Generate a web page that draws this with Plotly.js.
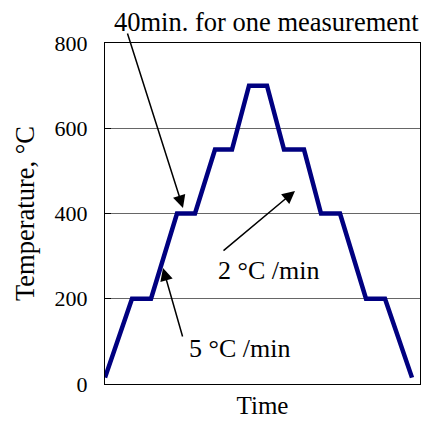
<!DOCTYPE html>
<html><head><meta charset="utf-8">
<script src="https://cdn.plot.ly/plotly-3.0.1.min.js"></script>
<style>html,body{margin:0;padding:0;background:#fff}#chart{width:422px;height:421px}</style>
</head><body><div id="chart"></div>
<script>
// time in arbitrary units (schematic), temperature in °C
const time = [0, 27, 46, 72, 90, 110, 127, 144, 162, 179, 199, 216, 235, 261, 280, 307];
const temperature = [15, 200, 200, 400, 400, 550, 550, 700, 700, 550, 550, 400, 400, 200, 200, 15];
const yTicks = [0, 200, 400, 600, 800];

const font = {family: '"Liberation Serif", "Times New Roman", serif', color: '#000'};

const trace = {
  x: time, y: temperature, mode: 'lines', type: 'scatter',
  line: {color: '#000080', width: 4.5}, hoverinfo: 'skip'
};

const layout = {
  width: 422, height: 421,
  margin: {l: 105, r: 2, t: 43, b: 37},
  paper_bgcolor: '#fff', plot_bgcolor: '#fff',
  showlegend: false,
  font: Object.assign({size: 22}, font),
  xaxis: {
    range: [0, 315], showticklabels: false, ticks: '', showgrid: false, zeroline: false,
    showline: true, linecolor: '#000', linewidth: 1, mirror: true,
    title: {text: 'Time', font: Object.assign({size: 25}, font), standoff: 12}
  },
  yaxis: {
    range: [0, 800], tickvals: yTicks, ticktext: yTicks.map(String),
    ticks: 'inside', ticklen: 6, tickcolor: '#000',
    showgrid: true, gridcolor: '#666', gridwidth: 1, zeroline: false,
    showline: true, linecolor: '#000', linewidth: 1, mirror: true,
    tickfont: Object.assign({size: 22}, font), ticklabelstandoff: 12,
    title: {text: 'Temperature, °C', font: Object.assign({size: 26.5}, font), standoff: 12}
  },
  annotations: [
    {x: 161, y: 1.062, xref: 'x', yref: 'paper', text: '40min. for one measurement', showarrow: false,
     font: Object.assign({size: 26.5}, font), xanchor: 'center', yanchor: 'middle'},
    {x: 78, y: 413, xref: 'x', yref: 'y', ax: -56, ay: -176, text: '', showarrow: true,
     arrowhead: 2, arrowsize: 1.7, arrowwidth: 1.5, arrowcolor: '#000'},
    {x: 190, y: 453, xref: 'x', yref: 'y', ax: -73, ay: 61, text: '', showarrow: true,
     arrowhead: 2, arrowsize: 1.7, arrowwidth: 1.5, arrowcolor: '#000'},
    {x: 58, y: 272, xref: 'x', yref: 'y', ax: 20, ay: 70, text: '', showarrow: true,
     arrowhead: 2, arrowsize: 1.7, arrowwidth: 1.5, arrowcolor: '#000'},
    {x: 163, y: 267, xref: 'x', yref: 'y', text: '2 °C /min', showarrow: false,
     font: Object.assign({size: 26}, font), xanchor: 'center', yanchor: 'middle'},
    {x: 134, y: 84, xref: 'x', yref: 'y', text: '5 °C /min', showarrow: false,
     font: Object.assign({size: 26}, font), xanchor: 'center', yanchor: 'middle'}
  ]
};

Plotly.newPlot('chart', [trace], layout, {displayModeBar: false, staticPlot: true});
</script></body></html>
